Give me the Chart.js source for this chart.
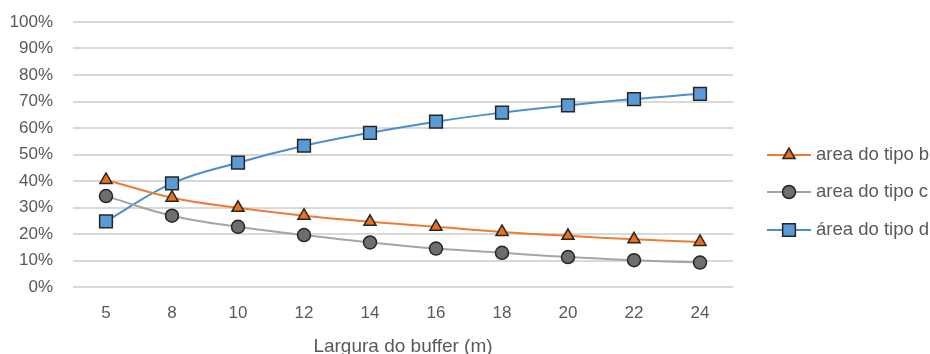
<!DOCTYPE html>
<html>
<head>
<meta charset="utf-8">
<script src="https://cdn.jsdelivr.net/npm/chart.js@4.4.1/dist/chart.umd.min.js"></script>
<style>
  html, body { margin: 0; padding: 0; background: #fff; }
  #wrap { width: 930px; height: 354px; position: relative; overflow: hidden; }
</style>
</head>
<body>
<div id="wrap"><canvas id="grafico"></canvas></div>
<script>
const larguras = ['5', '8', '10', '12', '14', '16', '18', '20', '22', '24'];
const tipoB = [40.4, 33.7, 29.9, 26.9, 24.6, 22.7, 20.8, 19.3, 18.0, 17.0];
const tipoC = [34.3, 26.9, 22.7, 19.6, 16.8, 14.5, 12.9, 11.3, 10.1, 9.2];
const tipoD = [24.8, 39.1, 46.9, 53.3, 58.2, 62.4, 65.8, 68.5, 70.9, 72.9];
const nomes = ['area do tipo b', 'area do tipo c', 'área do tipo d'];

const fonte = '"Liberation Sans", Arial, sans-serif';
const cinzaTexto = '#595959';

// legenda estilo Excel: linha + marcador no meio
const legendaExcel = {
  id: 'legendaExcel',
  afterDraw(chart) {
    const ctx = chart.ctx;
    const ys = [155, 192, 230];
    chart.data.datasets.forEach((ds, i) => {
      const y = ys[i];
      ctx.save();
      ctx.strokeStyle = ds.borderColor;
      ctx.lineWidth = 2;
      ctx.beginPath();
      ctx.moveTo(767, y);
      ctx.lineTo(811, y);
      ctx.stroke();
      ctx.fillStyle = ds.pointBackgroundColor;
      ctx.strokeStyle = ds.pointBorderColor;
      ctx.lineWidth = ds.pointBorderWidth;
      Chart.helpers.drawPoint(ctx, { pointStyle: ds.pointStyle, radius: ds.pointRadius, borderWidth: ds.pointBorderWidth }, 789, y);
      ctx.fillStyle = cinzaTexto;
      ctx.font = '18.5px ' + fonte;
      ctx.textBaseline = 'middle';
      ctx.fillText(ds.label, 816, y);
      ctx.restore();
    });
  }
};

new Chart(document.getElementById('grafico'), {
  type: 'line',
  data: {
    labels: larguras,
    datasets: [
      {
        label: nomes[0],
        data: tipoB,
        borderColor: '#ED7D31',
        borderWidth: 2,
        pointStyle: 'triangle',
        pointRadius: 7,
        pointBackgroundColor: '#E9711C',
        pointBorderColor: '#262626',
        pointBorderWidth: 1.5,
        tension: 0.4
      },
      {
        label: nomes[1],
        data: tipoC,
        borderColor: '#A5A5A5',
        borderWidth: 2,
        pointStyle: 'circle',
        pointRadius: 6.5,
        pointBackgroundColor: '#6E6E6E',
        pointBorderColor: '#262626',
        pointBorderWidth: 1.5,
        tension: 0.4
      },
      {
        label: nomes[2],
        data: tipoD,
        borderColor: '#4A8FD0',
        borderWidth: 2,
        pointStyle: 'rect',
        pointRadius: 9,
        pointBackgroundColor: '#5B9BD5',
        pointBorderColor: '#262626',
        pointBorderWidth: 1.5,
        tension: 0.4
      }
    ]
  },
  options: {
    responsive: true,
    maintainAspectRatio: false,
    animation: false,
    layout: {
      padding: { top: 22, right: 197, left: 0, bottom: 0 }
    },
    plugins: {
      legend: { display: false },
      tooltip: { enabled: false }
    },
    scales: {
      x: {
        offset: true,
        grid: { display: false },
        border: { display: false },
        ticks: { color: cinzaTexto, font: { family: fonte, size: 17 }, padding: 8 },
        title: {
          display: true,
          text: 'Largura do buffer (m)',
          color: cinzaTexto,
          font: { family: fonte, size: 19 },
          padding: { top: 0, bottom: -4 }
        },
        afterFit(scale) { scale.height = 67; }
      },
      y: {
        min: 0,
        max: 100,
        ticks: {
          stepSize: 10,
          color: cinzaTexto,
          font: { family: fonte, size: 17 },
          padding: 8,
          callback: v => v + '%'
        },
        // marcas invisiveis so para afastar os rotulos
        grid: { color: '#D9D9D9', lineWidth: 2, drawTicks: true, tickLength: 12, tickColor: 'rgba(0,0,0,0)' },
        border: { display: false },
        afterFit(scale) { scale.width = 73; }
      }
    }
  },
  plugins: [legendaExcel]
});
</script>
</body>
</html>
